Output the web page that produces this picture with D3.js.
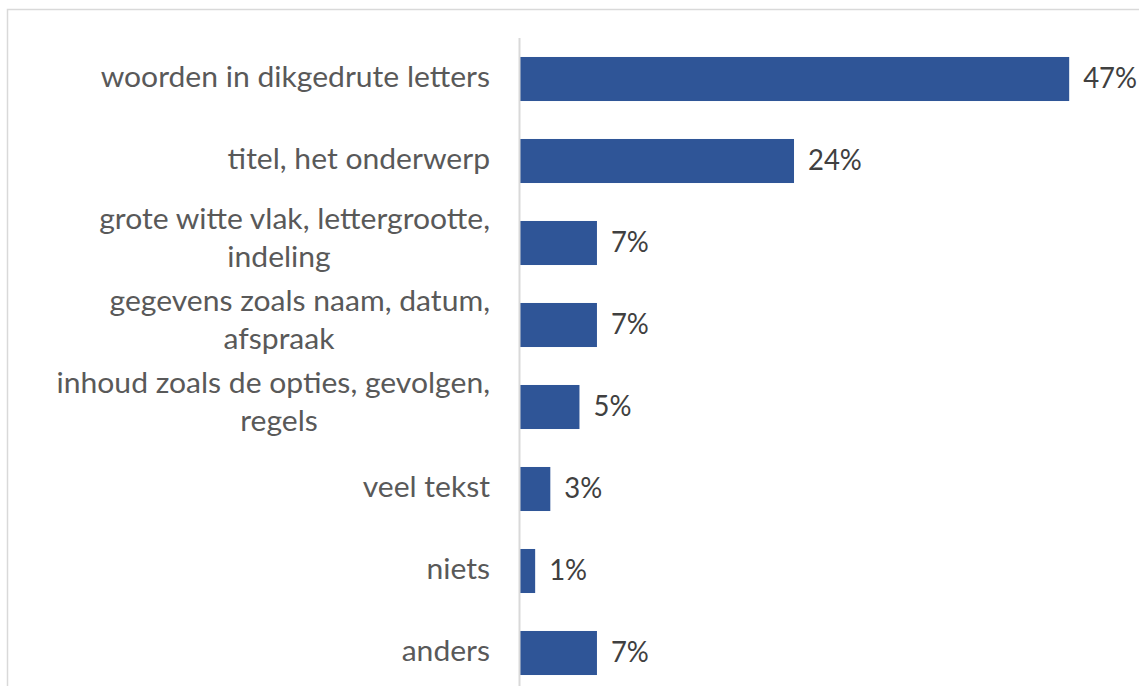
<!DOCTYPE html>
<html>
<head>
<meta charset="utf-8">
<script src="https://cdn.jsdelivr.net/npm/d3@7"></script>
<style>
  body { margin: 0; background: #fff; }
  text { font-family: Lato, "Open Sans", sans-serif; }
</style>
</head>
<body>
<svg id="chart" width="1139" height="686"></svg>
<script>
// categorieen (regelafbreking met \n zoals in de grafiek)
var categories = [
  "woorden in dikgedrute letters",
  "titel, het onderwerp",
  "grote witte vlak, lettergrootte,\nindeling",
  "gegevens zoals naam, datum,\nafspraak",
  "inhoud zoals de opties, gevolgen,\nregels",
  "veel tekst",
  "niets",
  "anders"
];
// percentages (geschat uit de balklengtes)
var values = [47.1, 23.5, 6.6, 6.6, 5.1, 2.6, 1.3, 6.6];

var svg = d3.select("#chart"),
    width = +svg.attr("width"),
    height = +svg.attr("height");

svg.append("rect")
    .attr("width", width).attr("height", height)
    .attr("fill", "#fff");

// kader rond de grafiek (rechts en onder buiten beeld)
svg.append("rect")
    .attr("x", 7.5).attr("y", 9.5)
    .attr("width", 1200).attr("height", 1000)
    .attr("fill", "none")
    .attr("stroke", "#d9d9d9")
    .attr("stroke-width", 1.5);

var x = d3.scaleLinear()
    .domain([0, 50])
    .range([520, 1103]);

var y = d3.scaleBand()
    .domain(categories)
    .range([38, 694])
    .paddingInner(0.463)
    .paddingOuter(0.2315);

var data = categories.map(function(c, i) { return {cat: c, val: values[i]}; });

// balken
svg.selectAll(".bar")
    .data(data)
  .enter().append("rect")
    .attr("class", "bar")
    .attr("x", x(0))
    .attr("y", function(d) { return y(d.cat); })
    .attr("width", function(d) { return x(d.val) - x(0); })
    .attr("height", y.bandwidth())
    .attr("fill", "#2f5597");

// verticale as
svg.append("line")
    .attr("x1", 519.5).attr("x2", 519.5)
    .attr("y1", y.range()[0]).attr("y2", y.range()[1])
    .attr("stroke", "#d9d9d9")
    .attr("stroke-width", 2);

var sx = 1.075; // tekst is in het origineel iets breed uitgerekt
var labelRight = 490, wrapCenter = 279;

// waardelabels
svg.selectAll(".val")
    .data(data)
  .enter().append("text")
    .attr("class", "val")
    .attr("transform", function(d) {
      return "translate(" + (x(d.val) + 14) + "," + (y(d.cat) + y.bandwidth() / 2 + 9) + ") scale(0.98,1)";
    })
    .attr("font-size", 28)
    .attr("fill", "#404040")
    .text(function(d) { return Math.round(d.val) + "%"; });

// categorielabels
var lab = svg.selectAll(".cat")
    .data(data)
  .enter().append("g")
    .attr("class", "cat")
    .attr("transform", function(d) {
      return "translate(" + labelRight + "," + (y(d.cat) + y.bandwidth() / 2) + ") scale(" + sx + ",1)";
    });

lab.each(function(d) {
  var g = d3.select(this),
      lines = d.cat.split("\n");
  if (lines.length === 1) {
    g.append("text")
        .attr("y", 8)
        .attr("text-anchor", "end")
        .attr("font-size", 28)
        .attr("fill", "#595959")
        .text(lines[0]);
  } else {
    g.append("text")
        .attr("y", -14)
        .attr("text-anchor", "end")
        .attr("font-size", 28)
        .attr("fill", "#595959")
        .text(lines[0]);
    g.append("text")
        .attr("x", (wrapCenter - labelRight) / sx)
        .attr("y", 24)
        .attr("text-anchor", "middle")
        .attr("font-size", 28)
        .attr("fill", "#595959")
        .text(lines[1]);
  }
});
</script>
</body>
</html>
